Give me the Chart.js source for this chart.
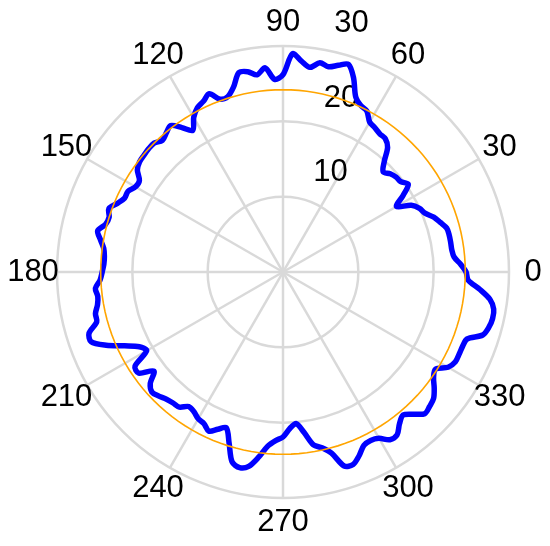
<!DOCTYPE html>
<html>
<head>
<meta charset="utf-8">
<script src="https://cdn.jsdelivr.net/npm/chart.js@4.4.1/dist/chart.umd.min.js"></script>
<style>
    html, body { margin: 0; padding: 0; background: #fff; }
    #wrap { width: 550px; height: 546px; }
</style>
</head>
<body>
<div id="wrap"><canvas id="polar" width="550" height="546"></canvas></div>
<script>
// sample angles, degrees counter-clockwise from east (0 .. 357.5)
const ANGLE_STEP = 2.5;
const angles = Array.from({ length: 144 }, (_, i) => i * ANGLE_STEP);

// radius at each sample angle
const rho = [
    24.3, 23.6, 22.8, 22.6, 22.6, 22.6, 22.5, 21.9, 21.3, 20.4, 20.0, 19.2,   // 0 - 27.5
    17.4, 18.9, 20.3, 19.7, 19.6, 19.3, 18.8, 19.9, 21.6, 22.3, 22.4, 22.7,   // 30 - 57.5
    23.0, 24.1, 24.4, 25.2, 27.4, 28.9, 28.4, 27.9, 28.2, 27.4, 28.1, 29.0,   // 60 - 87.5
    26.2, 25.6, 27.2, 26.4, 27.0, 27.1, 25.4, 24.4, 24.4, 25.6, 25.0, 24.6,   // 90 - 117.5
    23.7, 22.3, 23.4, 24.5, 24.1, 23.7, 24.2, 24.2, 24.1, 24.0, 23.6, 22.6,   // 120 - 147.5
    22.6, 23.2, 23.2, 23.8, 24.6, 24.2, 24.4, 25.2, 24.6, 24.0, 23.8, 23.8,   // 150 - 177.5
    24.0, 24.3, 25.0, 24.8, 25.0, 25.5, 25.6, 27.0, 27.1, 25.4, 23.2, 21.5,   // 180 - 207.5
    20.9, 23.3, 23.4, 21.6, 23.0, 23.6, 23.3, 22.9, 22.7, 22.6, 21.8, 22.0,   // 210 - 237.5
    22.5, 22.7, 23.3, 22.6, 22.0, 23.8, 26.1, 26.6, 26.2, 24.8, 23.2, 22.4,   // 240 - 267.5
    21.9, 20.8, 20.2, 21.5, 23.3, 23.9, 24.9, 27.0, 27.2, 26.4, 25.4, 25.2,   // 270 - 297.5
    25.5, 26.4, 26.4, 25.4, 24.8, 25.6, 26.6, 26.4, 26.1, 25.3, 24.4, 24.0,   // 300 - 327.5
    25.3, 25.8, 25.8, 25.8, 26.0, 27.8, 28.3, 28.5, 28.4, 27.7, 26.2, 24.6    // 330 - 357.5
];

const meanRho = 24.2;  // orange reference circle
const angleTicks = [0, 30, 60, 90, 120, 150, 180, 210, 240, 270, 300, 330];
const radiusTicks = [10, 20, 30];

// radar goes clockwise from startAngle, so walk the samples backwards
const order = angles.map((_, i) => (angles.length - i) % angles.length);
const labels = order.map(k => angles[k]);
const rhoData = order.map(k => rho[k]);

const LABEL_FONT = '31px "Liberation Sans", Arial, sans-serif';

/** Draws the angle labels round the rim and the radius labels beside the 82 deg ray */
const polarLabels = {
    id: 'polarLabels',
    beforeDatasetsDraw(chart) {
        const r = chart.scales.r;
        const ctx = chart.ctx;
        ctx.save();
        ctx.font = LABEL_FONT;
        ctx.fillStyle = '#000';
        ctx.textAlign = 'center';
        ctx.textBaseline = 'middle';

        const a = 82 * Math.PI / 180;
        radiusTicks.forEach(v => {
            const d = r.getDistanceFromCenterForValue(v);
            ctx.fillText(String(v), r.xCenter + Math.cos(a) * d + 37, r.yCenter - Math.sin(a) * d - 24.5);
        });

        angleTicks.forEach(t => {
            const p = r.getPointPosition(labels.indexOf(t), r.drawingArea + 24);
            ctx.fillText(String(t), p.x, p.y);
        });
        ctx.restore();
    }
};

new Chart(document.getElementById('polar'), {
    type: 'radar',
    data: {
        labels: labels,
        datasets: [{
            label: 'rho',
            data: rhoData,
            borderColor: '#0000ff',
            borderWidth: 5.5,
            borderJoinStyle: 'round',
            pointRadius: 0,
            tension: 0.3,
            fill: false,
            order: 1
        }, {
            label: 'mean',
            data: labels.map(() => meanRho),
            borderColor: '#ffa500',
            borderWidth: 1.6,
            pointRadius: 0,
            tension: 0,
            fill: false,
            order: 0
        }]
    },
    options: {
        responsive: false,
        animation: false,
        layout: { padding: { left: 57, right: 41, top: 46, bottom: 48 } },
        plugins: {
            legend: { display: false },
            tooltip: { enabled: false }
        },
        scales: {
            r: {
                min: 0,
                max: 30,
                startAngle: 90,
                ticks: { display: false, stepSize: 10 },
                pointLabels: { display: false },
                grid: { circular: true, color: '#d9d9d9', lineWidth: 2.5 },
                angleLines: {
                    color: '#d9d9d9',
                    lineWidth: c => (c.index % 12 === 0 ? 2.5 : 0)
                }
            }
        }
    },
    plugins: [polarLabels]
});
</script>
</body>
</html>
